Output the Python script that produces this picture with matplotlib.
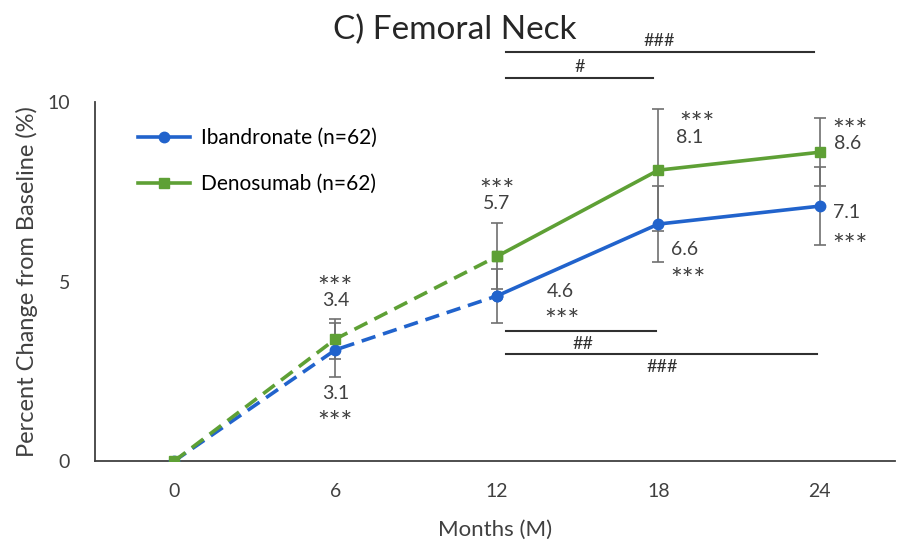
import matplotlib
matplotlib.use("Agg")
import matplotlib.pyplot as plt
from matplotlib.lines import Line2D

plt.rcParams['font.family'] = ['Lato', 'DejaVu Sans']

# data: mean % change from baseline, femoral neck
months = [0, 6, 12, 18, 24]
iband = [0, 3.1, 4.6, 6.6, 7.1]
iband_err = [0, 0.75, 0.75, 1.05, 1.08]
deno = [0, 3.4, 5.7, 8.1, 8.6]
deno_err = [0, 0.55, 0.92, 1.7, 0.95]
iband_label = 'Ibandronate (n=62)'
deno_label = 'Denosumab (n=62)'

# between-group comparisons: (start month, end month, level, label)
sig_above = [(12, 24, 11.39, '###'), (12, 18, 10.67, '#')]
sig_below = [(12, 18, 3.62, '##'), (12, 24, 2.98, '###')]

BLUE = '#2163cc'
GREEN = '#5ea035'
GREY = '#707070'
TXT = '#404040'

fig = plt.figure(figsize=(8.97, 5.42), dpi=100)
ax = fig.add_axes([0.106, 0.149, 0.892, 0.663])

# error bars first, lines over them
for y, e in [(deno, deno_err), (iband, iband_err)]:
    ax.errorbar(months[1:], y[1:], yerr=e[1:], fmt='none', ecolor=GREY,
                elinewidth=1.2, capsize=4, capthick=1.2, zorder=2)

for y, c, m, ms in [(iband, BLUE, 'o', 7.5), (deno, GREEN, 's', 7)]:
    # first year dashed, second year solid
    ax.plot(months[:3], y[:3], color=c, lw=2.6, ls=(0, (4, 2.2)),
            marker=m, ms=ms, zorder=3)
    ax.plot(months[2:], y[2:], color=c, lw=2.6, marker=m, ms=ms, zorder=3)

# value labels with significance vs baseline
values = [
    (6.0, 4.46, '3.4'), (6.0, 1.89, '3.1'),
    (12.0, 7.17, '5.7'), (14.34, 4.71, '4.6'),
    (19.17, 9.0, '8.1'), (18.98, 5.88, '6.6'),
    (25.04, 8.84, '8.6'), (25.0, 6.91, '7.1'),
]
stars = [
    (6.0, 4.78), (6.0, 1.03),
    (12.0, 7.48), (14.41, 3.87),
    (19.43, 9.36), (19.09, 5.01),
    (25.11, 9.16), (25.1, 5.96),
]
for x, y, t in values:
    ax.text(x, y, t, ha='center', va='center', fontsize=14, color=TXT)
for x, y in stars:
    ax.text(x, y, '***', ha='center', va='center', fontsize=20, color=TXT)

for x0, x1, lvl, t in sig_above:
    ax.plot([x0 + 0.33, x1 - 0.2], [lvl, lvl], color='#303030', lw=1.5,
            clip_on=False)
    ax.text((x0 + x1) / 2 + 0.05 if t == '###' else 15.08, lvl + 0.3, t,
            ha='center', va='center', fontsize=13, color='#303030')
for x0, x1, lvl, t in sig_below:
    ax.plot([x0 + 0.33, x1 - 0.1], [lvl, lvl], color='#303030', lw=1.5,
            clip_on=False)
    ax.text((x0 + x1) / 2 + 0.16 if t == '###' else 15.19, lvl - 0.36, t,
            ha='center', va='center', fontsize=13, color='#303030')

ax.set_xlim(-2.93, 26.8)
ax.set_ylim(0, 10)
ax.set_xticks(months)
ax.set_yticks([0, 5, 10])
ax.tick_params(length=0, labelsize=14, colors=TXT, pad=18)
ax.tick_params(axis='x', pad=16)
for s in ['top', 'right']:
    ax.spines[s].set_visible(False)
for s in ['left', 'bottom']:
    ax.spines[s].set_color(TXT)
    ax.spines[s].set_linewidth(1.3)

ax.set_xlabel('Months (M)', fontsize=16, color=TXT, labelpad=14)
ax.set_ylabel('Percent Change from Baseline (%)', fontsize=17,
              color=TXT, labelpad=7)
fig.text(0.507, 0.945, 'C) Femoral Neck', ha='center', va='center',
         fontsize=24, color='#262626')

handles = [
    Line2D([], [], color=BLUE, lw=2.6, marker='o', ms=7.5),
    Line2D([], [], color=GREEN, lw=2.6, marker='s', ms=7),
]
ax.legend(handles, [iband_label, deno_label], loc='upper left',
          bbox_to_anchor=(0.03, 0.979), frameon=False, fontsize=15,
          handlelength=2.5, labelspacing=1.25, handletextpad=0.55)

fig.savefig('out.png', dpi=100)
